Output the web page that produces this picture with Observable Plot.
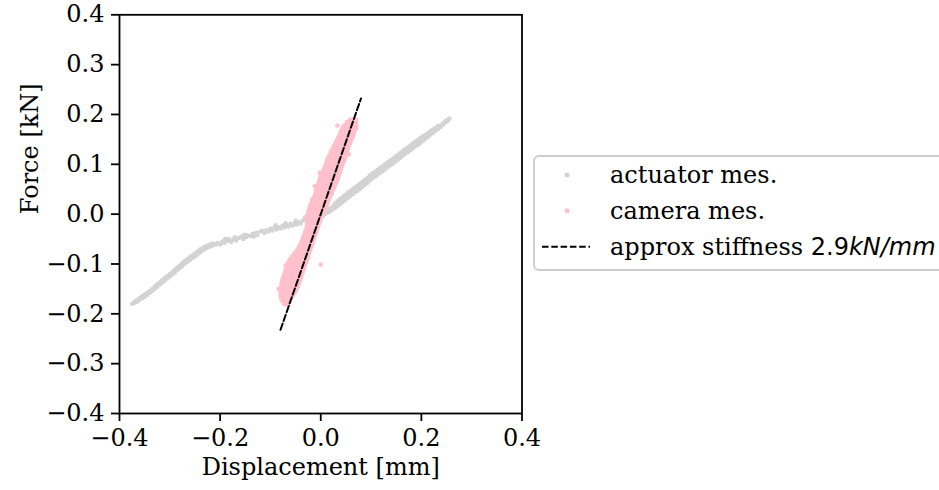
<!DOCTYPE html>
<html><head><meta charset="utf-8">
<script src="https://cdn.jsdelivr.net/npm/d3@7"></script>
<script src="https://cdn.jsdelivr.net/npm/@observablehq/plot@0.6"></script>
<style>
body{margin:0;background:#fff;overflow:hidden}
#chart{position:relative;width:939px;height:490px;overflow:hidden}
</style>
</head><body><div id="chart"></div>
<script>
// ---- data ----
const xTicks = [-0.4, -0.2, 0.0, 0.2, 0.4];
const yTicks = [-0.4, -0.3, -0.2, -0.1, 0.0, 0.1, 0.2, 0.3, 0.4];
const xLabel = "Displacement [mm]";
const yLabel = "Force [kN]";
const seriesNames = ["actuator mes.", "camera mes.", "approx stiffness "];
const stiffnessValue = "2.9";
const stiffnessUnit = "kN/mm";

// actuator: columns [x, y1, y2, ...]
const actuatorLower = [
  [-0.375,-0.180],[-0.370,-0.178,-0.175],[-0.365,-0.176,-0.172],[-0.360,-0.172,-0.168],
  [-0.355,-0.169,-0.164],[-0.350,-0.166,-0.161],[-0.345,-0.162,-0.158],[-0.340,-0.158,-0.154],
  [-0.335,-0.154,-0.150],[-0.330,-0.150,-0.145],[-0.325,-0.146,-0.141],[-0.320,-0.141,-0.137],
  [-0.315,-0.137,-0.132],[-0.310,-0.133,-0.128],[-0.305,-0.129,-0.124],[-0.300,-0.125,-0.120],
  [-0.295,-0.121,-0.116],[-0.290,-0.117,-0.111],[-0.285,-0.112,-0.107],[-0.280,-0.108,-0.103],
  [-0.275,-0.104,-0.098],[-0.270,-0.099,-0.094],[-0.265,-0.096,-0.090],[-0.260,-0.092,-0.086],
  [-0.255,-0.088,-0.083],[-0.250,-0.085,-0.079],[-0.245,-0.081,-0.075],[-0.240,-0.077,-0.071],
  [-0.235,-0.073,-0.068],[-0.230,-0.070,-0.065],[-0.225,-0.067,-0.063],[-0.220,-0.065,-0.061],
  [-0.215,-0.063,-0.059],[-0.209,-0.061]
];
// actuator: scattered points in the flat part [x, y]
const actuatorMiddle = [
  [-0.205,-0.058],[-0.200,-0.061],[-0.196,-0.055],[-0.192,-0.058],[-0.186,-0.054],[-0.183,-0.050],
  [-0.178,-0.056],[-0.174,-0.051],[-0.168,-0.053],[-0.163,-0.048],[-0.158,-0.045],[-0.154,-0.050],
  [-0.148,-0.046],[-0.146,-0.042],[-0.140,-0.044],[-0.135,-0.039],[-0.128,-0.037],[-0.126,-0.042],
  [-0.120,-0.035],[-0.117,-0.033],[-0.112,-0.038],[-0.108,-0.032],[-0.104,-0.035],[-0.100,-0.029],
  [-0.096,-0.033],[-0.092,-0.027],[-0.088,-0.031],[-0.084,-0.026],[-0.080,-0.029],[-0.076,-0.023],
  [-0.072,-0.027],[-0.068,-0.022],[-0.064,-0.025],[-0.060,-0.019],[-0.056,-0.023],[-0.052,-0.018],
  [-0.048,-0.021],[-0.044,-0.016],[-0.040,-0.019],[-0.036,-0.013],[-0.032,-0.011],[-0.028,-0.015],
  [-0.024,-0.010],[-0.020,-0.013],[-0.016,-0.008],[-0.012,-0.010],[-0.008,-0.005],[-0.004,-0.007],
  [0.000,-0.002],[-0.090,-0.022],[-0.070,-0.018],[-0.050,-0.013],[-0.030,-0.006],
  [-0.190,-0.050],[-0.171,-0.046],[-0.152,-0.041],[-0.133,-0.045]
];
const actuatorUpper = [
  [0.004,-0.004,0.001],[0.008,0.000,0.005],[0.013,0.003,0.008],[0.018,0.005,0.011],
  [0.023,0.009,0.015],[0.028,0.012,0.017,0.021],[0.033,0.016,0.021,0.026],[0.038,0.020,0.025,0.030],
  [0.043,0.024,0.029,0.034],[0.048,0.028,0.033,0.038],[0.053,0.032,0.037,0.042],[0.058,0.036,0.041,0.046],
  [0.063,0.040,0.045,0.050],[0.068,0.044,0.049,0.054],[0.073,0.047,0.052,0.057],[0.078,0.051,0.056,0.061],
  [0.083,0.055,0.060,0.065],[0.088,0.059,0.064,0.069],[0.093,0.063,0.068,0.073],[0.098,0.068,0.073,0.078],
  [0.103,0.072,0.077,0.082],[0.108,0.075,0.080,0.085],[0.113,0.079,0.084,0.089],[0.118,0.083,0.088,0.093],
  [0.123,0.086,0.091,0.096],[0.128,0.090,0.095,0.100],[0.133,0.094,0.099,0.104],[0.138,0.098,0.103,0.108],
  [0.143,0.101,0.106,0.111],[0.148,0.105,0.110,0.115],[0.153,0.109,0.114,0.119],[0.158,0.113,0.118,0.123],
  [0.163,0.117,0.122,0.127],[0.168,0.121,0.126,0.131],[0.173,0.124,0.129,0.134],[0.178,0.128,0.133,0.138],
  [0.183,0.132,0.137,0.142],[0.188,0.136,0.141,0.146],[0.193,0.139,0.144,0.149],[0.198,0.143,0.148,0.153],
  [0.203,0.147,0.152,0.157],[0.208,0.151,0.155,0.159],[0.213,0.155,0.159,0.163],[0.218,0.159,0.163,0.167],
  [0.223,0.163,0.167,0.170],[0.228,0.167,0.170,0.173],[0.233,0.171,0.174,0.177],[0.238,0.175,0.178],
  [0.243,0.179,0.182],[0.248,0.184,0.187],[0.253,0.188,0.190],[0.256,0.192]
];
// camera: rows [y, x1, x2, ...]
const cameraRows = [
  [0.190,0.058,0.064,0.070],
  [0.185,0.052,0.058,0.064,0.070],
  [0.179,0.047,0.053,0.059,0.065,0.071],
  [0.173,0.043,0.049,0.055,0.061,0.067,0.071],
  [0.167,0.040,0.046,0.052,0.058,0.063,0.068],
  [0.161,0.038,0.044,0.050,0.056,0.061,0.066],
  [0.155,0.035,0.041,0.047,0.053,0.059,0.064],
  [0.149,0.032,0.038,0.044,0.050,0.056,0.061],
  [0.143,0.029,0.035,0.041,0.047,0.053,0.059],
  [0.137,0.026,0.032,0.038,0.044,0.050,0.056],
  [0.131,0.023,0.029,0.035,0.041,0.047,0.054],
  [0.125,0.020,0.026,0.032,0.038,0.044,0.050,0.053],
  [0.119,0.017,0.023,0.029,0.035,0.041,0.047,0.051],
  [0.113,0.014,0.020,0.026,0.032,0.038,0.044,0.049],
  [0.107,0.012,0.018,0.024,0.030,0.036,0.042,0.047],
  [0.101,0.010,0.016,0.022,0.028,0.034,0.040,0.044],
  [0.095,0.008,0.014,0.020,0.026,0.032,0.038,0.042],
  [0.089,0.005,0.011,0.017,0.023,0.029,0.035,0.040],
  [0.083,0.003,0.009,0.015,0.021,0.027,0.033,0.038],
  [0.077,0.000,0.006,0.012,0.018,0.024,0.030,0.036],
  [0.071,-0.002,0.004,0.010,0.016,0.022,0.028,0.034],
  [0.065,-0.004,0.002,0.008,0.014,0.020,0.026,0.032],
  [0.059,-0.006,0.000,0.006,0.012,0.018,0.024,0.029],
  [0.053,-0.008,-0.002,0.004,0.010,0.016,0.022,0.027],
  [0.047,-0.010,-0.004,0.002,0.008,0.014,0.020,0.024],
  [0.041,-0.011,-0.005,0.001,0.007,0.013,0.018,0.022],
  [0.035,-0.013,-0.007,-0.001,0.005,0.011,0.016,0.019],
  [0.029,-0.016,-0.010,-0.004,0.002,0.008,0.013,0.016],
  [0.023,-0.019,-0.013,-0.007,-0.001,0.005,0.010,0.014],
  [0.017,-0.021,-0.015,-0.009,-0.003,0.003,0.008,0.012],
  [0.011,-0.023,-0.017,-0.011,-0.005,0.001,0.006,0.009],
  [0.005,-0.025,-0.019,-0.013,-0.007,-0.001,0.004,0.006],
  [-0.001,-0.026,-0.020,-0.014,-0.008,-0.002,0.003],
  [-0.007,-0.026,-0.020,-0.014,-0.008,-0.003,0.001],
  [-0.013,-0.027,-0.021,-0.015,-0.009,-0.004,-0.001],
  [-0.019,-0.027,-0.021,-0.015,-0.009,-0.003],
  [-0.025,-0.028,-0.022,-0.016,-0.010,-0.005],
  [-0.031,-0.030,-0.024,-0.018,-0.012,-0.007],
  [-0.037,-0.032,-0.026,-0.020,-0.014,-0.009],
  [-0.043,-0.034,-0.028,-0.022,-0.016,-0.011],
  [-0.049,-0.036,-0.030,-0.024,-0.018,-0.013],
  [-0.055,-0.038,-0.032,-0.026,-0.020,-0.015],
  [-0.061,-0.041,-0.035,-0.029,-0.023,-0.017],
  [-0.067,-0.044,-0.038,-0.032,-0.026,-0.019],
  [-0.073,-0.048,-0.042,-0.036,-0.030,-0.024,-0.021],
  [-0.079,-0.053,-0.047,-0.041,-0.035,-0.029,-0.023],
  [-0.085,-0.058,-0.052,-0.046,-0.040,-0.034,-0.029,-0.025],
  [-0.091,-0.062,-0.056,-0.050,-0.044,-0.038,-0.032,-0.027],
  [-0.097,-0.065,-0.059,-0.053,-0.047,-0.041,-0.035,-0.029],
  [-0.103,-0.067,-0.061,-0.055,-0.049,-0.043,-0.037,-0.031],
  [-0.109,-0.069,-0.063,-0.057,-0.051,-0.045,-0.039,-0.033],
  [-0.115,-0.071,-0.065,-0.059,-0.053,-0.047,-0.041,-0.035],
  [-0.121,-0.073,-0.067,-0.061,-0.055,-0.049,-0.043,-0.037],
  [-0.127,-0.075,-0.069,-0.063,-0.057,-0.051,-0.045,-0.039],
  [-0.133,-0.077,-0.071,-0.065,-0.059,-0.053,-0.047,-0.041],
  [-0.139,-0.078,-0.072,-0.066,-0.060,-0.054,-0.048,-0.043],
  [-0.145,-0.079,-0.073,-0.067,-0.061,-0.055,-0.050,-0.045],
  [-0.151,-0.080,-0.074,-0.068,-0.062,-0.056,-0.050,-0.048],
  [-0.157,-0.080,-0.074,-0.068,-0.062,-0.056,-0.051],
  [-0.163,-0.080,-0.074,-0.068,-0.062,-0.057,-0.055],
  [-0.169,-0.079,-0.073,-0.067,-0.062,-0.059],
  [-0.175,-0.076,-0.070,-0.066,-0.063],
  [-0.181,-0.072,-0.068,-0.066]
];
// camera: stray points off the main band [x, y]
const cameraOutliers = [
  [0.000,-0.101],[-0.017,0.030],[-0.012,0.056],[0.040,0.138],[0.033,0.178],[-0.031,-0.006],
  [-0.045,-0.075],[-0.033,-0.058],[-0.084,-0.150],[-0.070,-0.103],[0.056,0.120],[-0.002,0.083]
];
// stiffness line (F = 2.9 * d)
const stiffnessX = [-0.080, 0.080];
const stiffnessY = [-0.232, 0.232];

// ---- build tables ----
const fromCols = cols => cols.flatMap(([x, ...ys]) => ys.map(y => ({x, y})));
const fromRows = rows => rows.flatMap(([y, ...xs]) => xs.map(x => ({x, y})));
const actuator = [
  ...fromCols(actuatorLower),
  ...actuatorMiddle.map(([x, y]) => ({x, y})),
  ...fromCols(actuatorUpper)
];
const camera = [...fromRows(cameraRows), ...cameraOutliers.map(([x, y]) => ({x, y}))];
const stiffness = stiffnessX.map((x, i) => ({x, y: stiffnessY[i]}));

const serif = "'DejaVu Serif', serif";
const FS = 24;
const fmt = d => d3.format(".1f")(Math.abs(d) < 1e-9 ? 0 : d);

const plot = Plot.plot({
  width: 939, height: 490,
  marginLeft: 119, marginRight: 417.5, marginTop: 14.3, marginBottom: 77,
  style: {fontFamily: serif, fontSize: FS + "px", color: "black", background: "white"},
  x: {domain: [-0.4, 0.4]},
  y: {domain: [-0.4, 0.4]},
  marks: [
    Plot.dot(actuator, {x: "x", y: "y", r: 2.2, fill: "#d3d3d3"}),
    Plot.dot(camera, {x: "x", y: "y", r: 2.2, fill: "#ffc0cb"}),
    Plot.line(stiffness, {x: "x", y: "y", stroke: "black", strokeWidth: 2, strokeDasharray: "6.5,2.8"}),
    Plot.frame({stroke: "black", strokeWidth: 1.8}),
    Plot.axisX({ticks: xTicks, tickSize: 8, tickPadding: 7, tickFormat: fmt, strokeWidth: 1.8, label: null, fontSize: FS}),
    Plot.axisY({ticks: yTicks, tickSize: 8, tickPadding: 7, tickFormat: fmt, strokeWidth: 1.8, label: null, fontSize: FS}),
    Plot.text([xLabel], {text: d => d, frameAnchor: "bottom", dy: 54, lineAnchor: "middle", fontSize: FS}),
    Plot.text([yLabel], {text: d => d, frameAnchor: "left", dx: -89, rotate: -90, lineAnchor: "middle", fontSize: FS})
  ]
});
document.getElementById("chart").appendChild(plot);

// ---- legend ----
const svg = d3.select(plot);
const lg = svg.append("g").attr("text-anchor", "start");
lg.append("rect").attr("x", 534).attr("y", 156).attr("width", 430).attr("height", 114)
  .attr("rx", 5).attr("fill", "white").attr("stroke", "#cccccc").attr("stroke-width", 1.8);
const rowsY = [175, 210.7, 246.7];
lg.append("circle").attr("cx", 567).attr("cy", rowsY[0]).attr("r", 2.5).attr("fill", "#d3d3d3");
lg.append("circle").attr("cx", 567).attr("cy", rowsY[1]).attr("r", 2.5).attr("fill", "#ffc0cb");
lg.append("line").attr("x1", 542).attr("x2", 590).attr("y1", rowsY[2]).attr("y2", rowsY[2])
  .attr("stroke", "black").attr("stroke-width", 2).attr("stroke-dasharray", "6.5,2.8");
[0, 1, 2].forEach(i => {
  const t = lg.append("text").attr("x", 610).attr("y", rowsY[i]).attr("dy", "0.35em")
    .attr("text-anchor", "start")
    .attr("font-family", serif).attr("font-size", FS).attr("fill", "black");
  t.append("tspan").text(seriesNames[i]);
  if (i === 2) {
    t.append("tspan").attr("font-family", "'DejaVu Sans', sans-serif").text(stiffnessValue);
    t.append("tspan").attr("font-family", "'DejaVu Sans', sans-serif").attr("font-style", "italic").text(stiffnessUnit);
  }
});
</script>
</body></html>
